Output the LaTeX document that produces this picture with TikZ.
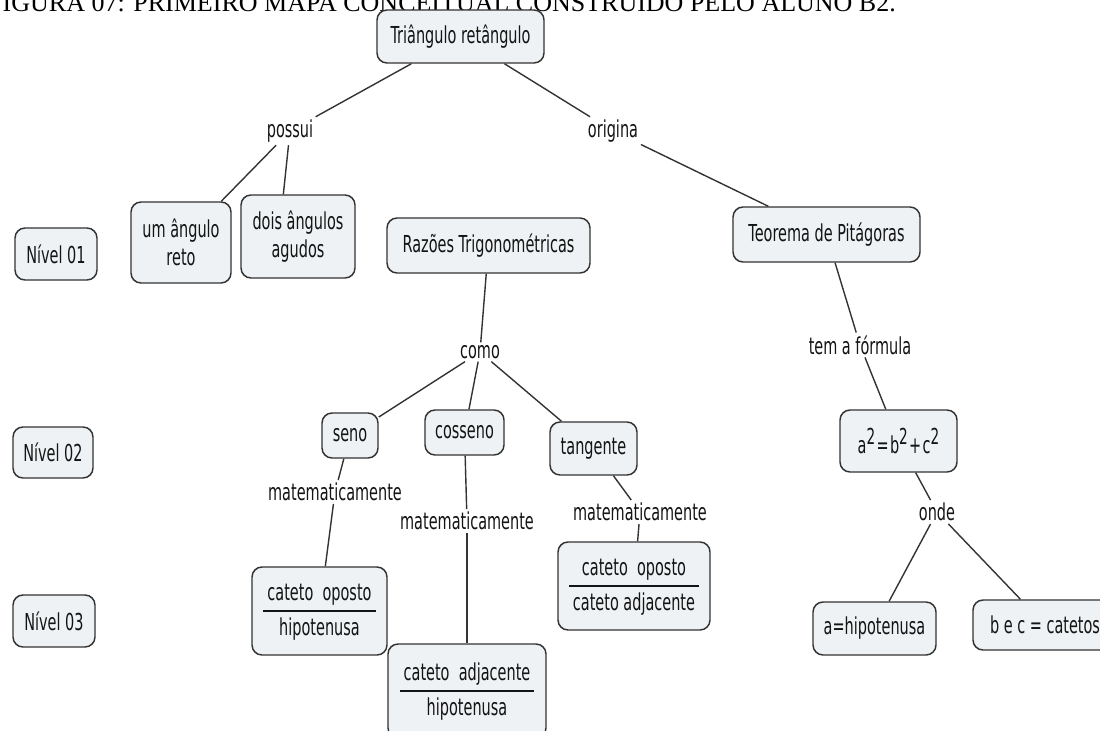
\documentclass[tikz,border=0pt]{standalone}
\usepackage{fontspec}
\newfontfamily\mapfont[FakeStretch=0.62]{DejaVu Sans}
\newfontfamily\titlefont{Liberation Serif}
\definecolor{boxfill}{HTML}{EEF2F4}
\definecolor{boxline}{HTML}{333333}
\definecolor{inktext}{HTML}{141414}
% fraction written as two lines separated by a rule
\newcommand{\mapfrac}[2]{\renewcommand{\arraystretch}{1.25}\setlength{\arrayrulewidth}{1pt}%
  \begin{tabular}{@{\hspace{3pt}}c@{\hspace{3pt}}}#1\\\hline #2\end{tabular}}
\newcommand{\sqtwo}{\raisebox{6.5pt}{\fontsize{16.5}{16.5}\selectfont 2}}
\begin{document}
\begin{tikzpicture}[x=0.75pt,y=-0.75pt,
  concept/.style={draw=boxline,line width=1.1pt,fill=boxfill,rounded corners=7.5pt,
    inner sep=0pt,align=center,text=inktext,
    font=\mapfont\fontsize{17.5}{20.5}\selectfont},
  linkword/.style={inner sep=2pt,text=inktext,font=\mapfont\fontsize{17.5}{20.5}\selectfont},
  link/.style={draw=boxline,line width=1.05pt}]
\useasboundingbox (0,0) rectangle (1100,731);
\clip (0,0) rectangle (1100,731);

% caption line, its upper part runs off the page
\node[anchor=base west,inner sep=0pt,font=\titlefont\fontsize{19.5}{20}\selectfont] (title) at (-12,12)
  {FIGURA 07: PRIMEIRO MAPA CONCEITUAL CONSTRUÍDO PELO ALUNO B2.};

% level markers
\node[concept,minimum width=61.5pt,minimum height=39pt] (niv1) at (56,254) {Nível 01};
\node[concept,minimum width=60pt,minimum height=38.25pt] (niv2) at (53,452.5) {Nível 02};
\node[concept,minimum width=61.5pt,minimum height=39pt] (niv3) at (54,621) {Nível 03};

% concepts
\node[concept,minimum width=125.25pt,minimum height=39.75pt] (tri) at (460.5,36.5) {Triângulo retângulo};
\node[concept,minimum width=75pt,minimum height=60.75pt] (um) at (181,242.5) {um ângulo\\reto};
\node[concept,minimum width=85.5pt,minimum height=62.25pt] (dois) at (298,236.5) {dois ângulos\\agudos};
\node[concept,minimum width=152.25pt,minimum height=41.25pt] (raz) at (488.5,245.5) {Razões Trigonométricas};
\node[concept,minimum width=140.25pt,minimum height=41.25pt] (teo) at (826.5,234.5) {Teorema de Pitágoras};
\node[concept,minimum width=42pt,minimum height=33.75pt] (seno) at (350,435.5) {seno};
\node[concept,minimum width=59.25pt,minimum height=33.75pt] (cos) at (464.5,432.5) {cosseno};
\node[concept,minimum width=65.25pt,minimum height=39.75pt] (tan) at (593.5,448.5) {tangente};
\node[concept,minimum width=87.75pt,minimum height=46.5pt] (form) at (898.5,441) {a\sqtwo{}\kern1pt=\kern1pt b\sqtwo{}\kern1pt+\kern1pt c\sqtwo};
\node[concept,minimum width=101.25pt,minimum height=66pt] (f1) at (319.5,611) {\mapfrac{cateto\ \ oposto}{hipotenusa}};
\node[concept,minimum width=118.5pt,minimum height=70.5pt] (f2) at (467,691) {\mapfrac{cateto\ \ adjacente}{hipotenusa}};
\node[concept,minimum width=114pt,minimum height=66pt] (f3) at (634,586) {\mapfrac{cateto\ \ oposto}{cateto adjacente}};
\node[concept,minimum width=92.25pt,minimum height=39.75pt] (ahip) at (874.5,628.5) {a=hipotenusa};
\node[concept,minimum width=108pt,minimum height=37.5pt] (bec) at (1045,625) {b e c = catetos};

% linking words
\node[linkword] (possui) at (290,131) {possui};
\node[linkword] (origina) at (613,131) {origina};
\node[linkword] (como) at (480,352) {como};
\node[linkword] (temf) at (860,345) {tem a fórmula};
\node[linkword] (mseno) at (335,492) {matematicamente};
\node[linkword] (mcos) at (467,521) {matematicamente};
\node[linkword] (mtan) at (640,512) {matematicamente};
\node[linkword] (onde) at (937,512) {onde};

% connectors
\draw[link] (tri) -- (possui);
\draw[link] (possui) -- (um);
\draw[link] (possui) -- ([xshift=-11pt]dois.north);
\draw[link] (tri) -- (origina);
\draw[link] (origina) -- (teo);
\draw[link] (raz) -- (como);
\draw[link] (como) -- (seno);
\draw[link] (como) -- (cos);
\draw[link] (como) -- (tan);
\draw[link] (seno) -- (mseno);
\draw[link] (mseno) -- (f1);
\draw[link] (cos) -- (mcos);
\draw[link] (mcos) -- (f2);
\draw[link] (tan) -- (mtan);
\draw[link] (mtan) -- (f3);
\draw[link] (teo) -- (temf);
\draw[link] (temf) -- (form);
\draw[link] (form) -- (onde);
\draw[link] (onde) -- (ahip);
\draw[link] (onde) -- (bec);
\end{tikzpicture}
\end{document}
